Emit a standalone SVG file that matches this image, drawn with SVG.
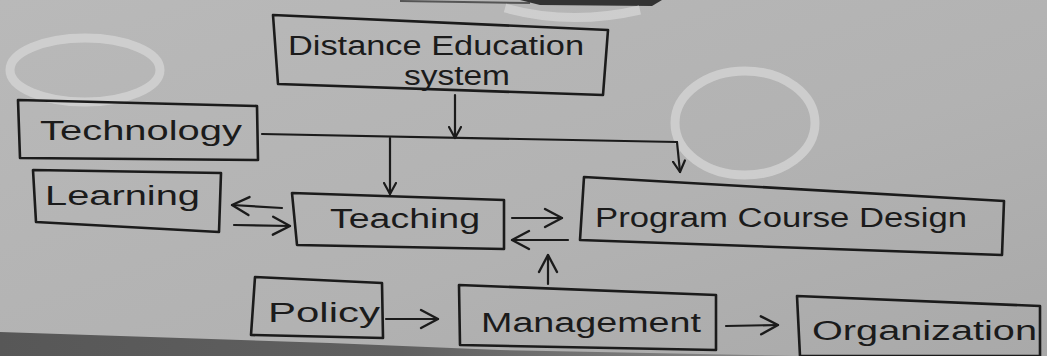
<svg xmlns="http://www.w3.org/2000/svg" width="1047" height="356" viewBox="0 0 1047 356">
<defs>
<linearGradient id="paper" x1="0" y1="0" x2="1" y2="1">
<stop offset="0" stop-color="#b9b9b9"/>
<stop offset="0.6" stop-color="#b2b2b2"/>
<stop offset="1" stop-color="#a9a9a9"/>
</linearGradient>
<linearGradient id="table" x1="0" y1="0" x2="1" y2="0">
<stop offset="0" stop-color="#575757"/>
<stop offset="0.5" stop-color="#606060"/>
<stop offset="1" stop-color="#8a8a8a"/>
</linearGradient>
<marker id="ah" markerWidth="14" markerHeight="14" refX="12" refY="7" orient="auto" markerUnits="userSpaceOnUse">
<path d="M1,1 L12,7 L1,13" fill="none" stroke="#1b1b1b" stroke-width="2.2" stroke-linecap="round" stroke-linejoin="round"/>
</marker>
<marker id="ahBig" markerWidth="22" markerHeight="22" refX="19" refY="11" orient="auto" markerUnits="userSpaceOnUse">
<path d="M2,2 L19,11 L2,20" fill="none" stroke="#1b1b1b" stroke-width="2.4" stroke-linecap="round" stroke-linejoin="round"/>
</marker>
</defs>
<style>
.box{fill:none;stroke:#1b1b1b;stroke-width:2.6;stroke-linejoin:round;stroke-linecap:round}
.lbl{font-family:"Liberation Sans","DejaVu Sans",sans-serif;font-size:27px;fill:#1b1b1b}
.con{fill:none;stroke:#1b1b1b;stroke-width:2.2;stroke-linecap:round}
.smudge{fill:none;stroke:#d6d6d6;stroke-width:9;opacity:0.75}
</style>
<rect width="1047" height="356" fill="url(#paper)"/>
<!-- photo artefacts -->
<path d="M0,332 L330,343 L500,350 L800,356 L0,356 Z" fill="url(#table)"/>
<path d="M400,1 L530,3" stroke="#555" stroke-width="2" fill="none"/>
<path d="M520,0 L662,0 L652,6 L540,5 Z" fill="#333"/>
<ellipse class="smudge" cx="85" cy="70" rx="75" ry="32"/>
<ellipse class="smudge" cx="745" cy="123" rx="70" ry="52"/>
<path class="smudge" d="M505,8 Q570,26 640,10" stroke-width="7"/>

<g id="node-distance-education-system">
<path class="box" d="M273,15 L608,30 L603,95 L278,84 Z"/>
<text class="lbl" x="288" y="55" textLength="296" lengthAdjust="spacingAndGlyphs">Distance Education</text>
<text class="lbl" x="404" y="85" textLength="106" lengthAdjust="spacingAndGlyphs">system</text>
</g>
<g id="node-technology">
<path class="box" d="M18,100 L257,106 L258,160 L20,158 Z"/>
<text class="lbl" x="40" y="140" textLength="202" lengthAdjust="spacingAndGlyphs">Technology</text>
</g>
<g id="node-learning">
<path class="box" d="M33,170 L221,173 L219,232 L36,222 Z"/>
<text class="lbl" x="45" y="205" textLength="155" lengthAdjust="spacingAndGlyphs">Learning</text>
</g>
<g id="node-teaching">
<path class="box" d="M292,193 L504,200 L504,249 L297,245 Z"/>
<text class="lbl" x="330" y="228" textLength="150" lengthAdjust="spacingAndGlyphs">Teaching</text>
</g>
<g id="node-program-course-design">
<path class="box" d="M584,177 L1004,201 L1002,255 L580,240 Z"/>
<text class="lbl" x="595" y="227" textLength="372" lengthAdjust="spacingAndGlyphs">Program Course Design</text>
</g>
<g id="node-policy">
<path class="box" d="M255,277 L382,283 L383,338 L251,335 Z"/>
<text class="lbl" x="268" y="322" textLength="112" lengthAdjust="spacingAndGlyphs">Policy</text>
</g>
<g id="node-management">
<path class="box" d="M459,285 L716,295 L716,350 L460,345 Z"/>
<text class="lbl" x="481" y="332" textLength="220" lengthAdjust="spacingAndGlyphs">Management</text>
</g>
<g id="node-organization">
<path class="box" d="M797,296 L1040,306 L1040,356 L800,356 Z"/>
<text class="lbl" x="812" y="340" textLength="225" lengthAdjust="spacingAndGlyphs">Organization</text>
</g>

<g id="connectors">
<path class="con" d="M455,95 L455,138" marker-end="url(#ah)"/>
<path class="con" d="M262,134 L520,139 L677,142"/>
<path class="con" d="M677,142 L680,172" marker-end="url(#ah)"/>
<path class="con" d="M390,138 L390,194" marker-end="url(#ah)"/>
<path class="con" d="M282,208 L232,205" marker-end="url(#ahBig)"/>
<path class="con" d="M234,225 L290,226" marker-end="url(#ahBig)"/>
<path class="con" d="M512,218 L562,218" marker-end="url(#ahBig)"/>
<path class="con" d="M568,240 L512,240" marker-end="url(#ahBig)"/>
<path class="con" d="M548,284 L548,255" marker-end="url(#ahBig)"/>
<path class="con" d="M386,319 L438,319" marker-end="url(#ahBig)"/>
<path class="con" d="M726,326 L778,325" marker-end="url(#ahBig)"/>
</g>
</svg>
